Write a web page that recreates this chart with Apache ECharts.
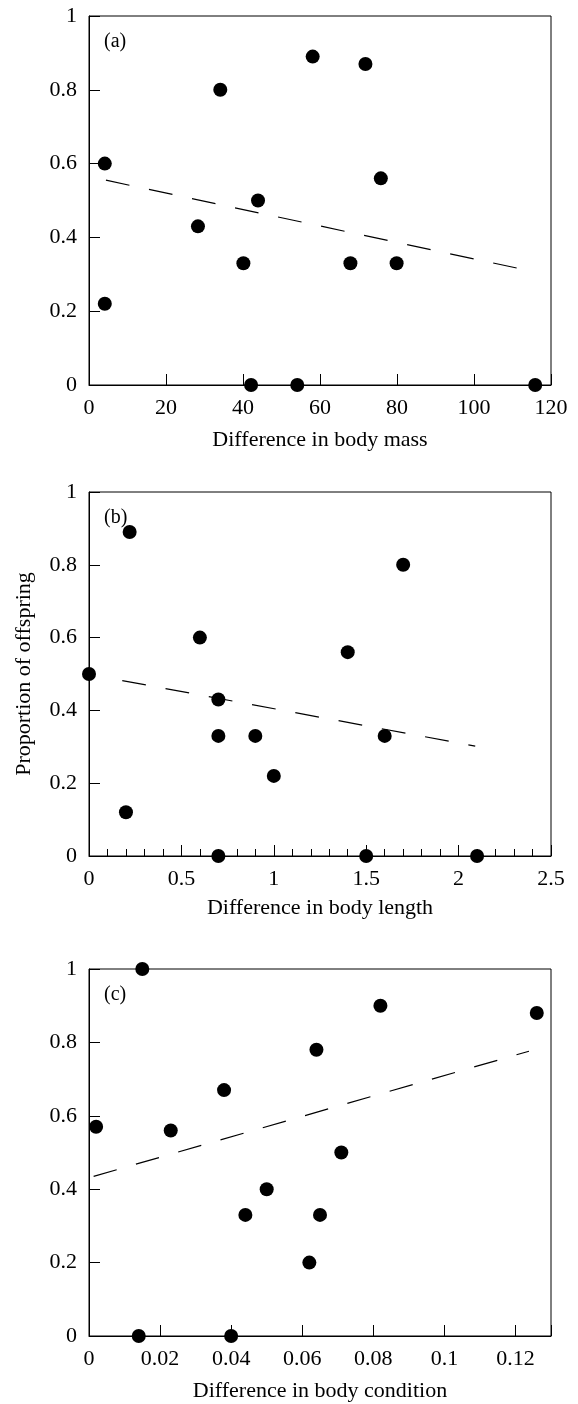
<!DOCTYPE html>
<html>
<head>
<meta charset="utf-8">
<script src="https://cdn.jsdelivr.net/npm/echarts@6/dist/echarts.min.js"></script>
<style>
  html, body { margin: 0; padding: 0; background: #fff; }
  #chart { width: 578px; height: 1404px; }
</style>
</head>
<body>
<div id="chart"></div>
<script>
// (a) difference in body mass
var massPoints = [
  [4.1, 0.6], [4.1, 0.22], [28.3, 0.43], [34.1, 0.8], [40.1, 0.33], [42.1, 0],
  [43.9, 0.5], [54.1, 0], [58.1, 0.89], [67.9, 0.33], [71.8, 0.87], [75.8, 0.56],
  [79.9, 0.33], [115.9, 0]
];
var massTrend = [[4.4, 0.555], [116, 0.306]];

// (b) difference in body length
var lengthPoints = [
  [0, 0.5], [0.2, 0.12], [0.22, 0.89], [0.6, 0.6], [0.7, 0.43], [0.7, 0.33],
  [0.7, 0], [0.9, 0.33], [1.0, 0.22], [1.4, 0.56], [1.5, 0], [1.6, 0.33],
  [1.7, 0.8], [2.1, 0]
];
var lengthTrend = [[0.18, 0.482], [2.09, 0.302]];

// (c) difference in body condition
var conditionPoints = [
  [0.002, 0.57], [0.015, 1.0], [0.014, 0], [0.023, 0.56], [0.038, 0.67], [0.04, 0],
  [0.044, 0.33], [0.05, 0.4], [0.062, 0.2], [0.064, 0.78], [0.065, 0.33],
  [0.071, 0.5], [0.082, 0.9], [0.126, 0.88]
];
var conditionTrend = [[0.0013, 0.435], [0.1238, 0.776]];

var panelLabels = ['(a)', '(b)', '(c)'];
var xTitles = ['Difference in body mass', 'Difference in body length', 'Difference in body condition'];
var yTitle = 'Proportion of offspring';

var serif = 'Liberation Serif';
var grids = [
  { left: 89, width: 462, top: 16, height: 369 },
  { left: 89, width: 462, top: 492, height: 364 },
  { left: 89, width: 462, top: 969, height: 367 }
];

function xAxisFor(i, min, max, interval, gap, extra) {
  var ax = {
    type: 'value', gridIndex: i, min: min, max: max, interval: interval,
    name: xTitles[i], nameLocation: 'middle', nameGap: gap,
    nameTextStyle: { fontFamily: serif, fontSize: 22, color: '#000' },
    axisLine: { lineStyle: { color: '#000', width: 1 } },
    axisTick: { inside: true, length: 11, lineStyle: { color: '#000' } },
    axisLabel: { fontFamily: serif, fontSize: 22, color: '#000', margin: 12 },
    splitLine: { show: false }
  };
  return Object.assign(ax, extra || {});
}

function yAxisFor(i, withName) {
  return {
    type: 'value', gridIndex: i, min: 0, max: 1, interval: 0.2,
    name: withName ? yTitle : '', nameLocation: 'middle', nameGap: 54,
    nameTextStyle: { fontFamily: serif, fontSize: 22, color: '#000' },
    axisLine: { lineStyle: { color: '#000', width: 1 } },
    axisTick: { inside: true, length: 11, lineStyle: { color: '#000' } },
    axisLabel: { fontFamily: serif, fontSize: 22, color: '#000', margin: 12 },
    splitLine: { show: false }
  };
}

function dots(i, data) {
  return {
    type: 'scatter', xAxisIndex: i, yAxisIndex: i, data: data,
    symbolSize: 14, clip: false, itemStyle: { color: '#000', opacity: 1 }, silent: true
  };
}

function trend(i, data) {
  return {
    type: 'line', xAxisIndex: i, yAxisIndex: i, data: data,
    symbol: 'none', silent: true,
    lineStyle: { color: '#000', width: 1.2, type: [24, 20] }
  };
}

var chart = echarts.init(document.getElementById('chart'));
chart.setOption({
  animation: false,
  backgroundColor: '#fff',
  title: panelLabels.map(function (t, i) {
    return {
      text: t, left: 104, top: grids[i].top + 16, padding: 0,
      textStyle: { fontFamily: serif, fontSize: 20, fontWeight: 'normal', color: '#000' }
    };
  }),
  grid: grids.map(function (g) {
    return Object.assign({ show: true, borderColor: '#000', borderWidth: 1, containLabel: false }, g);
  }),
  xAxis: [
    xAxisFor(0, 0, 120, 20, 44),
    xAxisFor(1, 0, 2.5, 0.5, 41, {
      minorTick: { show: true, splitNumber: 5, length: 7, lineStyle: { color: '#000' } }
    }),
    xAxisFor(2, 0, 0.13, 0.02, 44, {
      axisLabel: {
        fontFamily: serif, fontSize: 22, color: '#000', margin: 12,
        formatter: function (v) { return v > 0.125 ? '' : String(+v.toFixed(2)); }
      }
    })
  ],
  yAxis: [yAxisFor(0, false), yAxisFor(1, true), yAxisFor(2, false)],
  series: [
    dots(0, massPoints), trend(0, massTrend),
    dots(1, lengthPoints), trend(1, lengthTrend),
    dots(2, conditionPoints), trend(2, conditionTrend)
  ]
});
</script>
</body>
</html>
